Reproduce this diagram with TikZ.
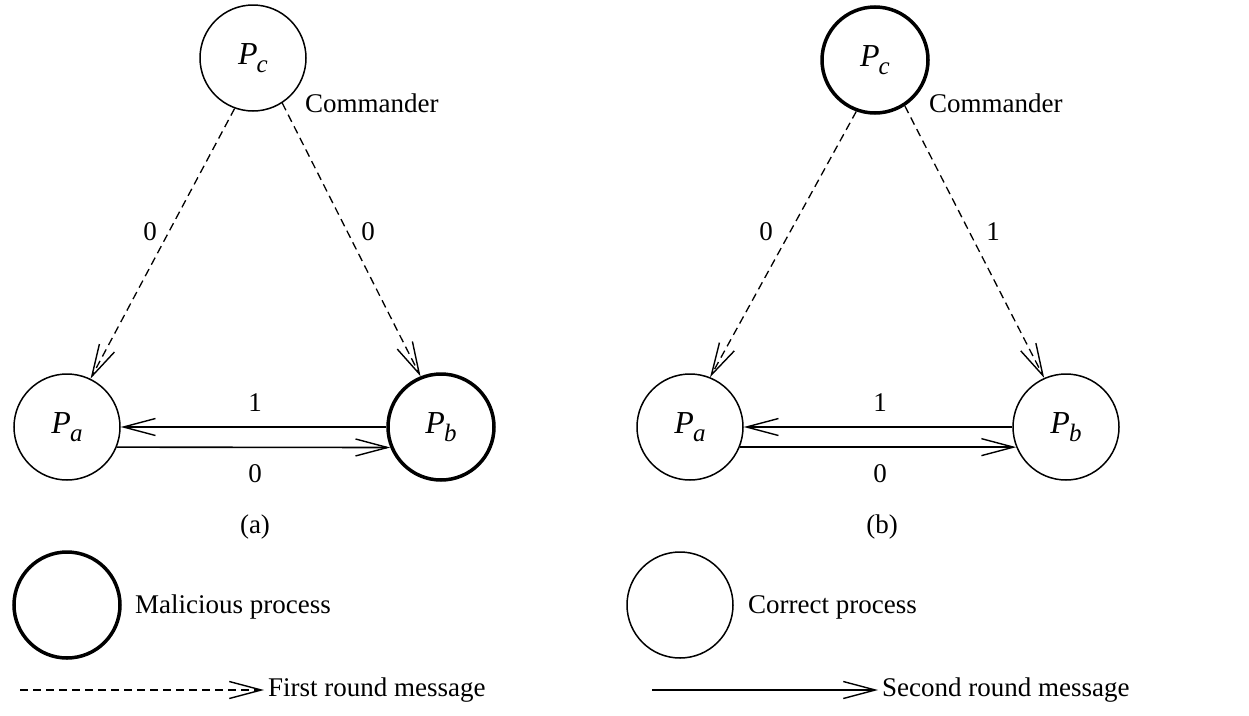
\documentclass[tikz,border=0pt]{standalone}
\usepackage{fontspec}
\setmainfont{Liberation Serif}
\usetikzlibrary{arrows.meta}
\newcommand{\Pnode}[1]{\fontsize{32}{34}\selectfont\textit{P}\kern-1pt\raisebox{-8pt}{\fontsize{25}{25}\selectfont\textit{#1}}}
\tikzset{
  txt/.style={font=\fontsize{27}{30}\selectfont, inner sep=0pt},
  proc/.style={circle, draw, line width=1.5pt, minimum size=106pt, inner sep=0pt},
  malproc/.style={proc, line width=3.5pt},
  tip/.style={-{Straight Barb[length=32pt,width=17pt,line width=1.4pt]}},
  msgone/.style={tip, line width=1.3pt, dash pattern=on 8pt off 5pt},
  msgtwo/.style={tip, line width=1.6pt},
}
\begin{document}
\begin{tikzpicture}[x=1pt,y=-1pt]
\useasboundingbox (0,0) rectangle (1249,715);
% (a)
\node[proc] (Pc1) at (253,58) {\Pnode{c}};
\node[proc] (Pa1) at (67,427) {\Pnode{a}};
\node[malproc] (Pb1) at (441,427) {\Pnode{b}};
\node[txt, anchor=west] (cmd1) at (305,103) {Commander};
\draw[msgone] (Pc1.250) -- (Pa1.64);
\draw[msgone] (Pc1.303) -- (Pb1.112);
\node[txt] (l1a) at (150,232) {0};
\node[txt] (l1b) at (368,232) {0};
\draw[msgtwo] (Pb1.180) -- (Pa1.0);
\draw[msgtwo] (Pa1.-22) -- (Pb1.-158);
\node[txt] (l1c) at (255,403) {1};
\node[txt] (l1d) at (255,474) {0};
\node[txt] (capa) at (255,527) {(a)};
% (b)
\node[malproc] (Pc2) at (875,60) {\Pnode{c}};
\node[proc] (Pa2) at (690,427) {\Pnode{a}};
\node[proc] (Pb2) at (1066,427) {\Pnode{b}};
\node[txt, anchor=west] (cmd2) at (929,103) {Commander};
\draw[msgone] (Pc2.250) -- (Pa2.68);
\draw[msgone] (Pc2.303) -- (Pb2.114);
\node[txt] (l2a) at (766,232) {0};
\node[txt] (l2b) at (993,232) {1};
\draw[msgtwo] (Pb2.180) -- (Pa2.0);
\draw[msgtwo] (Pa2.-22) -- (Pb2.-158);
\node[txt] (l2c) at (880,403) {1};
\node[txt] (l2d) at (880,474) {0};
\node[txt] (capb) at (882,527) {(b)};
% legend
\node[malproc] (lm) at (67,605) {};
\node[txt, anchor=west] (lmt) at (135,607) {Malicious process};
\node[proc] (lc) at (680,605) {};
\node[txt, anchor=west] (lct) at (748,607) {Correct process};
\coordinate (d1) at (20,690);
\coordinate (d2) at (264,690);
\draw[msgone] (d1) -- (d2);
\node[txt, anchor=west] (dt) at (268,690) {First round message};
\coordinate (s1) at (652,690);
\coordinate (s2) at (878,690);
\draw[msgtwo] (s1) -- (s2);
\node[txt, anchor=west] (st) at (882,690) {Second round message};
\end{tikzpicture}
\end{document}
